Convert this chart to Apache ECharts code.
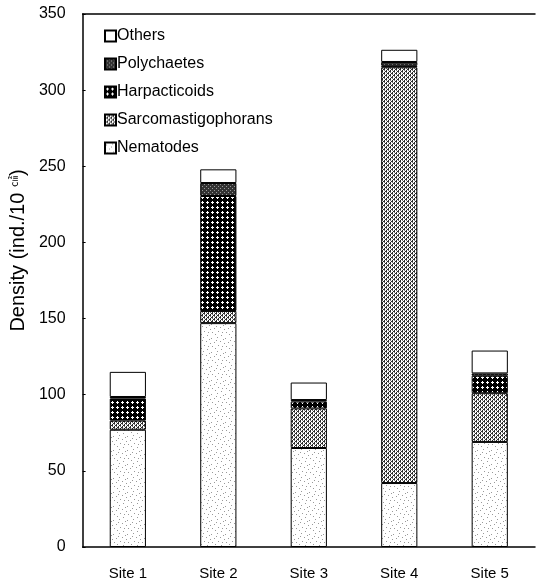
<!DOCTYPE html>
<html><head><meta charset="utf-8">
<script src="https://cdn.jsdelivr.net/npm/echarts@6/dist/echarts.min.js"></script>
<style>html,body{margin:0;padding:0;background:#fff}#c{width:536px;height:583px}</style>
</head><body><div id="c"></div>
<script>
const categories = ['Site 1','Site 2','Site 3','Site 4','Site 5'];
const nematodes = [77, 147, 65, 42, 69];
const sarcomastigophorans = [6, 8, 26, 273, 32];
const harpacticoids = [14.5, 75.5, 4.5, 1, 11.5];
const polychaetes = [1, 8.5, 1, 2.5, 1.5];
const others = [16.5, 9, 11.5, 8, 15];
const yTicks = [0, 50, 100, 150, 200, 250, 300, 350];

function pat(w, h, draw) {
  const c = document.createElement('canvas'); c.width = w; c.height = h;
  const g = c.getContext('2d'); draw(g, w, h); return { image: c, repeat: 'repeat' };
}
const stippleDots = [[1,2],[7,1],[4,6],[10,5],[2,10],[8,9],[5,12],[11,13],[0,7],[13,3],[6,4],[12,10]];
const nemPat = pat(14, 14, (g) => { g.fillStyle='#fff'; g.fillRect(0,0,14,14); g.fillStyle='#999';
  stippleDots.forEach(p => g.fillRect(p[0], p[1], 1, 1)); });
const sarPat = pat(8, 8, (g) => { g.fillStyle='#fff'; g.fillRect(0,0,8,8);
  for (let x=0;x<8;x++) for (let y=0;y<8;y++) {
    if ((x+y)%4===0 || (x+y)%4===1 && (x%2===0)) { g.fillStyle='#2a2a2a'; g.fillRect(x,y,1,1); }
    else if (((x-y)%4+4)%4===2) { g.fillStyle='#777'; g.fillRect(x,y,1,1); }
  } });
const harPat = pat(5, 5, (g) => { g.fillStyle='#000'; g.fillRect(0,0,5,5); g.fillStyle='#fff';
  g.fillRect(2,1,1,3); g.fillRect(1,2,3,1); });
const polPat = pat(4, 4, (g) => { g.fillStyle='#333'; g.fillRect(0,0,4,4); g.fillStyle='#999';
  g.fillRect(0,0,1,1); g.fillRect(2,2,1,1); });

const chart = echarts.init(document.getElementById('c'));
const font = 'Liberation Sans, Arial, sans-serif';
function ser(name, data, color) {
  return { name, type: 'bar', stack: 'a', data, barWidth: '40%',
    itemStyle: { color, borderColor: '#000', borderWidth: 1 } };
}
chart.setOption({
  animation: false,
  textStyle: { fontFamily: font, color: '#000' },
  grid: { left: 80, right: 1, top: 14, bottom: 36 },
  legend: {
    orient: 'vertical', left: 99, top: 23, itemWidth: 11, itemHeight: 11, itemGap: 12, icon: 'rect',
    textStyle: { fontSize: 16, fontFamily: font, color: '#000', padding: [0,0,0,-4] },
    data: ['Others','Polychaetes','Harpacticoids','Sarcomastigophorans','Nematodes']
  },
  xAxis: [{
    type: 'category', data: categories,
    axisLine: { lineStyle: { color: '#000', width: 1.5 } },
    axisTick: { inside: true, length: 4, lineStyle: { color: '#000' } },
    axisLabel: { fontSize: 15, color: '#000', margin: 19, fontFamily: font }
  }, {
    type: 'category', position: 'top', data: categories,
    axisLine: { show: true, lineStyle: { color: '#000', width: 1.5 } },
    axisTick: { show: false }, axisLabel: { show: false }
  }],
  yAxis: {
    type: 'value', min: 0, max: 350, interval: 50,
    name: 'Density (ind./10 {s|㎠})', nameLocation: 'middle', nameGap: 47,
    nameTextStyle: { fontSize: 20, color: '#000', fontFamily: font, padding: [0, 0, 0, 60],
      rich: { s: { fontSize: 11, fontFamily: 'Noto Sans CJK SC', verticalAlign: 'top' } } },
    axisLine: { show: true, lineStyle: { color: '#000', width: 1.5 } },
    axisTick: { show: true, inside: true, length: 3, lineStyle: { color: '#000' } },
    splitLine: { show: false },
    axisLabel: { fontSize: 16, color: '#000', margin: 17, fontFamily: font,
      formatter: v => yTicks.includes(v) ? String(v) : '' }
  },
  series: [
    ser('Nematodes', nematodes, nemPat),
    ser('Sarcomastigophorans', sarcomastigophorans, sarPat),
    ser('Harpacticoids', harpacticoids, harPat),
    ser('Polychaetes', polychaetes, polPat),
    ser('Others', others, '#fff')
  ]
});
</script></body></html>
